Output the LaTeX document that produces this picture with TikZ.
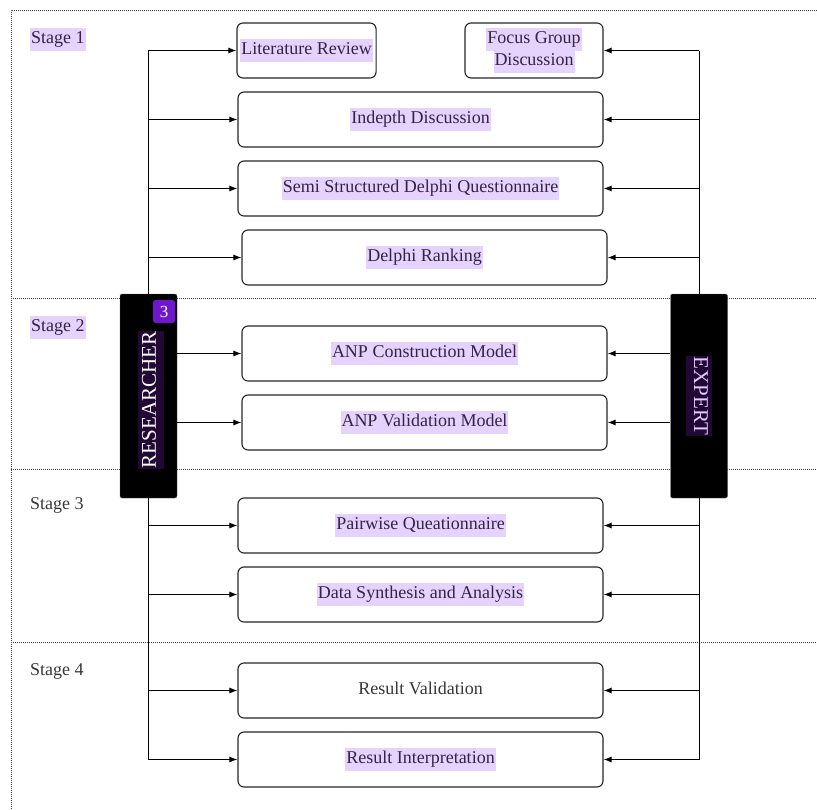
\documentclass[tikz,border=0pt]{standalone}
\usepackage{fontspec}
\setmainfont{Liberation Serif}
\usetikzlibrary{arrows.meta}
\definecolor{hlpurple}{RGB}{230,210,255}
\definecolor{inkpurple}{RGB}{52,36,66}
\definecolor{inkgray}{RGB}{55,55,55}
\definecolor{darkhl}{RGB}{34,8,52}
\definecolor{lighttext}{RGB}{226,204,255}
\definecolor{badgepurple}{RGB}{112,22,204}
\newcommand{\hl}[1]{{\setlength{\fboxsep}{1pt}\colorbox{hlpurple}{\strut #1}}}
\tikzset{
  stepbox/.style={draw=black!85, line width=1.1pt, rounded corners=6pt, fill=white,
    minimum height=55pt, align=center, text=inkpurple,
    font=\fontsize{18}{21}\selectfont},
  barbox/.style={draw=black!60, fill=black, rounded corners=2pt,
    minimum width=57pt, minimum height=204pt},
  stagelbl/.style={anchor=west, inner sep=0pt, font=\fontsize{18}{21}\selectfont},
  arr/.style={line width=1pt, -{Latex[length=8pt,width=6pt]}},
  divider/.style={black!75, line width=0.9pt, dash pattern=on 1pt off 1pt},
}
\begin{document}
\begin{tikzpicture}[x=1pt,y=-1pt]
\useasboundingbox (0,0) rectangle (817,809);

% frame and stage dividers
\draw[divider] (11,809) -- (11,10) -- (817,10);
\draw[divider] (11,298) -- (817,298);
\draw[divider] (11,469) -- (817,469);
\draw[divider] (11,642) -- (817,642);

% stage labels
\node[stagelbl, text=inkpurple] (st1) at (30,39) {\hl{Stage 1}};
\node[stagelbl, text=inkpurple] (st2) at (30,327) {\hl{Stage 2}};
\node[stagelbl, text=inkgray] (st3) at (30,505) {Stage 3};
\node[stagelbl, text=inkgray] (st4) at (30,671) {Stage 4};

% steps
\node[stepbox, minimum width=137pt] (lit) at (306.5,50.5) {\hl{Literature Review}};
\node[stepbox, minimum width=138pt] (fgd) at (534,50.5) {\hl{Focus Group}\\[-2pt]\hl{Discussion}};
\node[stepbox, minimum width=365pt] (ind) at (420.5,119.5) {\hl{Indepth Discussion}};
\node[stepbox, minimum width=365pt] (semi) at (420.5,188.5) {\hl{Semi Structured Delphi Questionnaire}};
\node[stepbox, minimum width=365pt] (rank) at (424.5,257.5) {\hl{Delphi Ranking}};
\node[stepbox, minimum width=365pt] (anpc) at (424.5,353.5) {\hl{ANP Construction Model}};
\node[stepbox, minimum width=365pt] (anpv) at (424.5,422.5) {\hl{ANP Validation Model}};
\node[stepbox, minimum width=365pt] (pair) at (420.5,525.5) {\hl{Pairwise Queationnaire}};
\node[stepbox, minimum width=365pt] (data) at (420.5,594.5) {\hl{Data Synthesis and Analysis}};
\node[stepbox, minimum width=365pt, text=inkgray] (rval) at (420.5,690.5) {\strut Result Validation};
\node[stepbox, minimum width=365pt] (rint) at (420.5,759.5) {\hl{Result Interpretation}};

% trunks
\coordinate (lt) at (148,51);
\coordinate (lb) at (148,760);
\coordinate (rt) at (699,51);
\coordinate (rb) at (699,760);
\draw[line width=1pt] (lt) -- (lb);
\draw[line width=1pt] (rt) -- (rb);

% branches
\foreach \s in {lit,ind,semi,rank,pair,data,rval,rint}
  \draw[arr] (\s.west -| lt) -- (\s.west);
\foreach \s in {fgd,ind,semi,rank,pair,data,rval,rint}
  \draw[arr] (\s.east -| rt) -- (\s.east);

% actors
\node[barbox] (res) at (148.5,396) {};
\node[barbox] (exp) at (699,396) {};
\node[rotate=90, fill=darkhl, inner sep=1pt, text=white,
  font=\fontsize{21}{24}\selectfont] (restxt) at (151,400) {\strut RESEARCHER};
\node[rotate=-90, fill=darkhl, inner sep=1pt, text=lighttext,
  font=\fontsize{21}{24}\selectfont] (exptxt) at (699,396) {\strut EXPERT};
\node[fill=badgepurple, rounded corners=2.5pt, minimum width=22pt, minimum height=23pt,
  inner sep=0pt, text=white, font=\fontsize{17}{19}\selectfont] (badge) at (164,311.5) {3};

\draw[arr] (anpc.west -| res.east) -- (anpc.west);
\draw[arr] (anpv.west -| res.east) -- (anpv.west);
\draw[arr] (anpc.east -| exp.west) -- (anpc.east);
\draw[arr] (anpv.east -| exp.west) -- (anpv.east);
\end{tikzpicture}
\end{document}
